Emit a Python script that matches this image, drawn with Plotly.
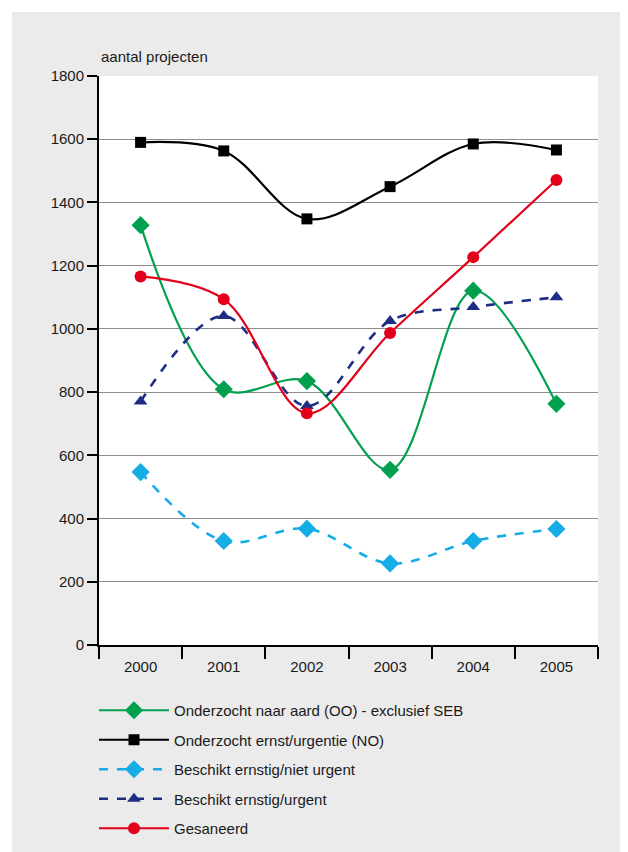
import plotly.graph_objects as go

years = ["2000", "2001", "2002", "2003", "2004", "2005"]
onderzocht_oo = [1328, 809, 835, 554, 1121, 763]
onderzocht_no = [1590, 1563, 1348, 1450, 1585, 1566]
beschikt_niet_urgent = [547, 329, 368, 258, 329, 367]
beschikt_urgent = [770, 1041, 756, 1025, 1069, 1100]
gesaneerd = [1166, 1094, 733, 987, 1227, 1471]
y_ticks = [0, 200, 400, 600, 800, 1000, 1200, 1400, 1600, 1800]

series = [
    ("Onderzocht naar aard (OO) - exclusief SEB", onderzocht_oo, "#00a04f", "solid", "diamond", 14, 2.2),
    ("Onderzocht ernst/urgentie (NO)", onderzocht_no, "#000000", "solid", "square", 11, 2.2),
    ("Beschikt ernstig/niet urgent", beschikt_niet_urgent, "#14ade6", "dash", "diamond", 14, 2.6),
    ("Beschikt ernstig/urgent", beschikt_urgent, "#1d2d84", "dash", "triangle-up", 12, 2.6),
    ("Gesaneerd", gesaneerd, "#e2001a", "solid", "circle", 12, 2.2),
]

fig = go.Figure()
for i, (name, vals, col, dash, sym, size, w) in enumerate(series):
    fig.add_trace(go.Scatter(
        x=years, y=vals, name=name, mode="lines+markers",
        line=dict(color=col, width=w, dash=dash, shape="spline", smoothing=1.0),
        marker=dict(symbol=sym, size=size, color=col, line=dict(width=0)),
        legendgroup=f"g{i}",
    ))

OFF = 8  # page body margin
W, H = 628, 852
L = 99 - OFF
T = 76 - OFF
R = W - (598 - OFF)
B = H - (645 - OFF)
pw, ph = W - L - R, H - T - B

def px_x(sx):
    return (sx - OFF - L) / pw

def px_y(sy):
    return (H - B - (sy - OFF)) / ph

FONT = "Liberation Sans, Arial, sans-serif"
FS = 15

fig.update_layout(
    width=W, height=H,
    margin=dict(l=L, r=R, t=T, b=B, pad=0, autoexpand=False),
    paper_bgcolor="#ebebeb",
    plot_bgcolor="#ffffff",
    font=dict(family=FONT, size=FS, color="#1a1a1a"),
    showlegend=True,
    legend=dict(
        orientation="v", x=px_x(94), xanchor="left", y=px_y(694), yanchor="top",
        bgcolor="rgba(0,0,0,0)", font=dict(size=FS), tracegroupgap=7,
        itemwidth=70, itemsizing="trace",
    ),
    xaxis=dict(
        type="category", tickson="boundaries", ticks="outside", ticklen=12,
        tickwidth=2, tickcolor="#000", showline=True, linecolor="#000", linewidth=2,
        showgrid=False, zeroline=False, range=[-0.5, 5.5], fixedrange=True,
        tickfont=dict(size=FS), ticklabelstandoff=7, automargin=False,
    ),
    yaxis=dict(
        range=[0, 1800], tickvals=y_ticks, ticks="outside", ticklen=10,
        tickwidth=2, tickcolor="#000", showline=True, linecolor="#000", linewidth=2,
        showgrid=True, gridcolor="#8c8c8c", gridwidth=1, zeroline=False,
        tickfont=dict(size=FS), automargin=False,
    ),
    shapes=[
        dict(type="rect", xref="paper", yref="paper", x0=px_x(-5), x1=px_x(12),
             y0=px_y(870), y1=px_y(-5), fillcolor="#ffffff", line=dict(width=0), layer="below"),
        dict(type="rect", xref="paper", yref="paper", x0=px_x(-5), x1=px_x(650),
             y0=px_y(12), y1=px_y(-5), fillcolor="#ffffff", line=dict(width=0), layer="below"),
    ],
    annotations=[
        dict(text="aantal projecten", xref="paper", yref="paper", x=px_x(99), y=px_y(57),
             xanchor="left", yanchor="middle", showarrow=False, font=dict(size=FS)),
    ],
)

fig.write_html("out.html")
